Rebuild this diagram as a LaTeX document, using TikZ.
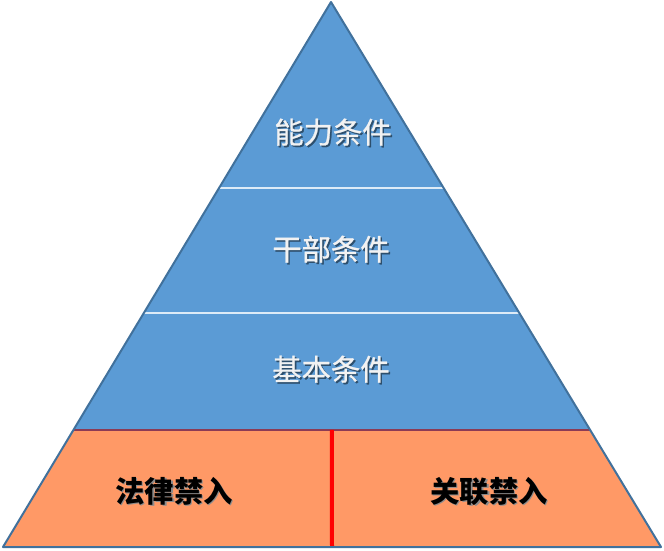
\documentclass[tikz,border=0pt]{standalone}
\usepackage{fontspec}
\newfontfamily\cjk{Noto Sans CJK SC}
\newfontfamily\cjkmid[FakeBold=0.9]{Noto Sans CJK SC}
\usetikzlibrary{calc}
\definecolor{skyfill}{HTML}{5B9BD5}
\definecolor{rim}{HTML}{41719C}
\definecolor{peach}{HTML}{FF9966}
\definecolor{seam}{HTML}{DDEBF7}
\definecolor{joint}{HTML}{8C3B55}
\definecolor{pale}{HTML}{F2F2F2}
% text with a soft drop shadow
\newcommand\shtext[3]{\makebox[0pt][l]{\hspace{1.2pt}\raisebox{-1.2pt}{\color{#1}#3}}{\color{#2}#3}}

\begin{document}
\begin{tikzpicture}[
  x=0.75pt, y=-0.75pt, line join=round,
  tier/.style={font=\cjkmid\fontsize{22}{26}\selectfont, inner sep=0pt},
  base/.style={font=\cjk\bfseries\fontsize{22}{26}\selectfont, inner sep=0pt},
  seamline/.style={draw=seam, line width=1.5pt},
]
  \useasboundingbox (0,0) rectangle (664,550);

  % Apex and base corners; tier edges are cut along the sides.
  \coordinate (apex) at (331,2);
  \coordinate (bl) at (3,547);
  \coordinate (br) at (661,547);
  \coordinate (l1) at ($(apex)!0.3413!(bl)$);
  \coordinate (r1) at ($(apex)!0.3413!(br)$);
  \coordinate (l2) at ($(apex)!0.5706!(bl)$);
  \coordinate (r2) at ($(apex)!0.5706!(br)$);
  \coordinate (l3) at ($(apex)!0.7853!(bl)$);
  \coordinate (r3) at ($(apex)!0.7853!(br)$);
  \coordinate (mtop) at ($(l3)!0.5!(r3)$);
  \coordinate (mbot) at ($(bl)!0.5!(br)$);

  % Blue tiers and the orange base.
  \fill[skyfill] (apex) -- (l3) -- (r3) -- cycle;
  \fill[peach] (l3) -- (bl) -- (br) -- (r3) -- cycle;
  \draw[seamline] (l1) -- (r1);
  \draw[seamline] (l2) -- (r2);
  \draw[joint, line width=1.5pt] (l3) -- (r3);
  \draw[red, line width=3pt] (mtop |- l3) -- (mbot);
  \draw[rim, line width=1.5pt] (apex) -- (bl) -- (br) -- cycle;

  % Labels.
  \node[tier] (ability) at (333,133) {\shtext{rim!70!black}{pale}{能力条件}};
  \node[tier] (cadre) at (331,250) {\shtext{rim!70!black}{pale}{干部条件}};
  \node[tier] (basic) at (331,370) {\shtext{rim!70!black}{pale}{基本条件}};
  \node[base] (legal) at (174,492) {\shtext{black!45}{black}{法律禁入}};
  \node[base] (related) at (489,492) {\shtext{black!45}{black}{关联禁入}};
\end{tikzpicture}
\end{document}
